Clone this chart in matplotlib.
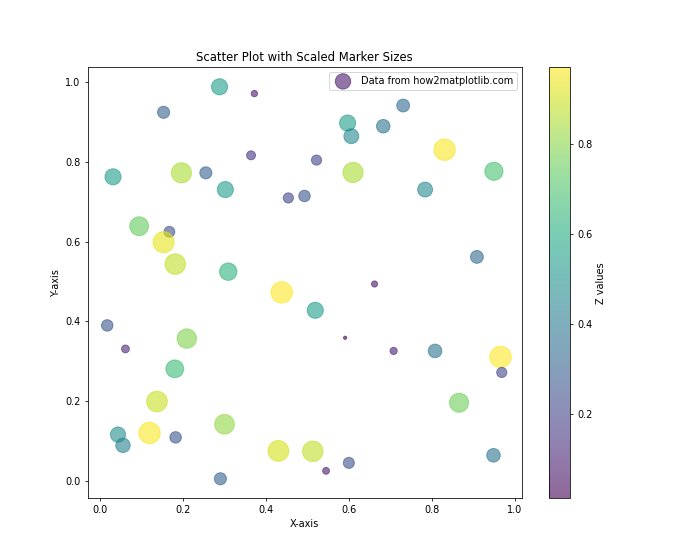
import matplotlib
matplotlib.use("Agg")
import matplotlib.pyplot as plt
import numpy as np

# values
x = [0.372, 0.288, 0.153, 0.364, 0.031, 0.196, 0.255, 0.302, 0.454, 0.094,
     0.167, 0.153, 0.181, 0.309, 0.731, 0.597, 0.606, 0.683, 0.831, 0.522,
     0.610, 0.950, 0.493, 0.784, 0.909, 0.438, 0.017, 0.209, 0.061, 0.180,
     0.137, 0.300, 0.043, 0.119, 0.055, 0.182, 0.430, 0.290, 0.662, 0.519,
     0.591, 0.708, 0.808, 0.966, 0.969, 0.866, 0.513, 0.600, 0.545, 0.949]
y = [0.972, 0.989, 0.925, 0.817, 0.763, 0.773, 0.773, 0.731, 0.710, 0.639,
     0.625, 0.599, 0.544, 0.525, 0.942, 0.898, 0.865, 0.890, 0.831, 0.805,
     0.774, 0.777, 0.715, 0.731, 0.562, 0.473, 0.390, 0.357, 0.331, 0.281,
     0.199, 0.142, 0.116, 0.120, 0.089, 0.109, 0.075, 0.005, 0.494, 0.428,
     0.359, 0.326, 0.326, 0.311, 0.272, 0.196, 0.074, 0.045, 0.025, 0.064]
z = [0.076, 0.54, 0.30, 0.16, 0.54, 0.85, 0.30, 0.54, 0.21, 0.74,
     0.24, 0.93, 0.88, 0.63, 0.34, 0.54, 0.46, 0.38, 0.96, 0.21,
     0.85, 0.69, 0.27, 0.46, 0.34, 0.97, 0.27, 0.79, 0.12, 0.66,
     0.89, 0.81, 0.48, 0.96, 0.43, 0.27, 0.91, 0.30, 0.07, 0.54,
     0.012, 0.10, 0.38, 0.97, 0.21, 0.76, 0.88, 0.25, 0.09, 0.38]

z = np.array(z)
sizes = z * 500 + 5

fig = plt.figure(figsize=(10, 8), dpi=70)
scatter = plt.scatter(x, y, s=sizes, c=z, cmap='viridis', alpha=0.6,
                      label='Data from how2matplotlib.com')
plt.colorbar(scatter, label='Z values')
plt.title('Scatter Plot with Scaled Marker Sizes')
plt.xlabel('X-axis')
plt.ylabel('Y-axis')
plt.legend(loc='upper right')
plt.savefig('out.png', dpi=70)
